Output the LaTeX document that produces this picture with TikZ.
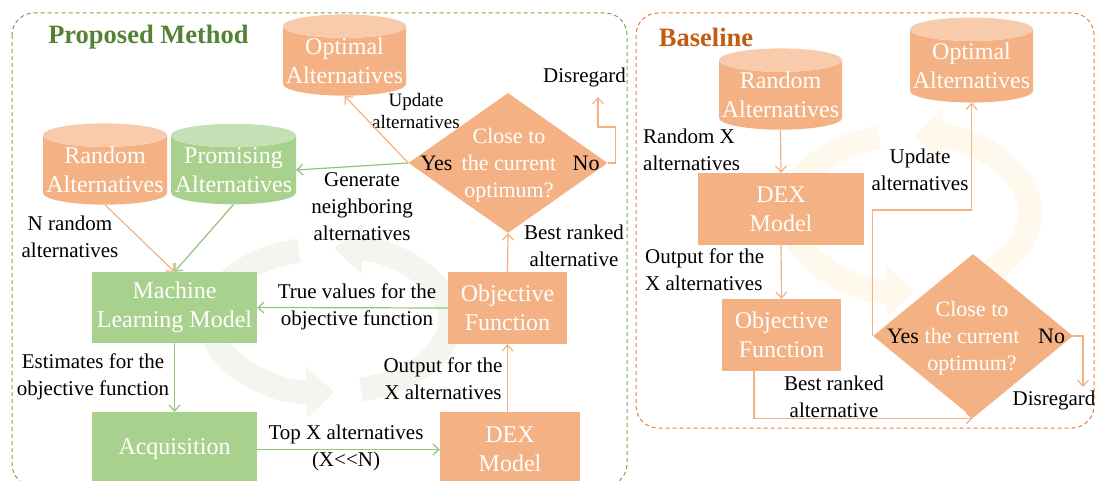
\documentclass[tikz,border=0pt]{standalone}
\usepackage{fontspec}
\setmainfont{Liberation Serif}
\usetikzlibrary{arrows.meta, positioning, shapes.geometric, calc}
\definecolor{orangefill}{HTML}{F4B183}
\definecolor{orangetop}{HTML}{F8CBAD}
\definecolor{greenfill}{HTML}{A9D18E}
\definecolor{greentop}{HTML}{C5E0B4}
\definecolor{greenline}{HTML}{93C47D}
\definecolor{orangeline}{HTML}{F4B183}
\definecolor{titlegreen}{HTML}{548235}
\definecolor{titleorange}{HTML}{C55A11}
\definecolor{framegreen}{HTML}{70AD47}
\definecolor{frameorange}{HTML}{ED7D31}
\definecolor{cyclegreen}{HTML}{F2F6EF}
\definecolor{cycleyellow}{HTML}{FEF9EC}
\newcommand{\boxfnt}{\fontsize{24}{29}\selectfont}
\newcommand{\lblfnt}{\fontsize{21}{27}\selectfont}
\newcommand{\decfnt}{\fontsize{22}{27}\selectfont}
\newcommand{\ttlfnt}{\fontsize{26.5}{30}\selectfont\bfseries}

\begin{document}
\begin{tikzpicture}[x=1pt, y=-1pt,
    box/.style={rectangle, fill=#1, text=white, inner sep=0pt, align=center, font=\boxfnt},
    db/.style 2 args={cylinder, shape border rotate=90, aspect=0.2, cylinder uses custom fill,
                      cylinder body fill=#1, cylinder end fill=#2, text=white, inner sep=0pt,
                      align=center, font=\boxfnt},
    decision/.style={diamond, fill=orangefill, inner sep=0pt},
    dtext/.style={text=white, align=center, font=\decfnt, inner sep=0pt},
    yn/.style={text=black, font=\decfnt, inner sep=0pt},
    lbl/.style={align=center, font=\lblfnt, inner sep=0pt},
    ttl/.style={font=\ttlfnt, inner sep=0pt},
    garrow/.style={draw=greenline, line width=1.2pt, -{Straight Barb[length=6pt, width=11pt]}},
    oarrow/.style={draw=orangeline, line width=1.2pt, -{Straight Barb[length=6pt, width=11pt]}},
    cyc/.style={line width=24pt, draw=#1, -{Triangle[length=28pt, width=50pt]}},
    frame/.style={draw=#1, line width=1pt, dash pattern=on 4pt off 3pt, rounded corners=22pt}
  ]
    \useasboundingbox (0,0) rectangle (1097,481);
    \clip (0,0) rectangle (1097,481);

    % faint cycle marks behind both loops
    \draw[cyc=cyclegreen] ([shift={(75:120 and 72)}]330,320) arc[start angle=75, end angle=-88, x radius=120, y radius=72];
    \draw[cyc=cyclegreen] ([shift={(-105:120 and 72)}]330,320) arc[start angle=-105, end angle=-272, x radius=120, y radius=72];
    \draw[cyc=cycleyellow] ([shift={(75:120 and 78)}]910,213) arc[start angle=75, end angle=-88, x radius=120, y radius=78];
    \draw[cyc=cycleyellow] ([shift={(-105:120 and 78)}]910,213) arc[start angle=-105, end angle=-272, x radius=120, y radius=78];

    % frames
    \draw[frame=framegreen] (12,13) rectangle (627,486);
    \draw[frame=frameorange] (636,13) rectangle (1094,428);
    \node[ttl, text=titlegreen] (ttlL) at (148.5,37) {Proposed Method};
    \node[ttl, text=titleorange] (ttlR) at (706,37) {Baseline};

    % proposed method
    \node[db={orangefill}{orangetop}, minimum width=123, minimum height=78] (optL) at (344.5,61) {Optimal\\Alternatives};
    \node[db={orangefill}{orangetop}, minimum width=124, minimum height=77] (randL) at (105,170) {Random\\Alternatives};
    \node[db={greenfill}{greentop}, minimum width=125, minimum height=77] (promL) at (233.5,170) {Promising\\Alternatives};
    \node[decision, minimum width=199, minimum height=140] (decL) at (508,163) {};
    \node[dtext] (decLtxt) at (509,165) {Close to\\the current\\optimum?};
    \node[yn, anchor=west] (yesL) at ([xshift=12pt]decL.west) {Yes};
    \node[yn, anchor=east] (noL) at ([xshift=-8pt]decL.east) {No};
    \node[box=greenfill, minimum width=165, minimum height=71] (mlL) at (174.5,307.5) {Machine\\Learning Model};
    \node[box=greenfill, minimum width=165, minimum height=75] (acqL) at (174.5,449.5) {Acquisition};
    \node[box=orangefill, minimum width=140, minimum height=75] (dexL) at (510,449.5) {DEX\\Model};
    \node[box=orangefill, minimum width=119, minimum height=72] (objL) at (507.5,308) {Objective\\Function};

    \node[lbl, font=\fontsize{19}{22}\selectfont] (updL) at (416,111) {Update\\alternatives};
    \node[lbl] (genL) at (362,207) {Generate\\neighboring\\alternatives};
    \node[lbl] (nrandL) at (70,237) {N random\\alternatives};
    \node[lbl] (trueL) at (357,307) {True values for the\\objective function};
    \node[lbl] (estL) at (93,377) {Estimates for the\\objective function};
    \node[lbl] (topL) at (346,448) {Top X alternatives\\(X\mbox{<}\mbox{<}N)};
    \node[lbl] (outL) at (443,379) {Output for the\\X alternatives};
    \node[lbl] (bestL) at (574,246) {Best ranked\\alternative};
    \node[lbl] (disL) at (584.5,77) {Disregard};
    \coordinate (disLpt) at (598,97);

    \draw[oarrow] (randL.south) -- (mlL.north);
    \draw[garrow] (promL.south) -- (mlL.north);
    \draw[garrow] (decL.west) -- (promL.east);
    \draw[oarrow] (decL.west) -- (optL.south);
    \draw[oarrow] (decL.east) -- ++(8,0) -- ++(0,-36) -| (disLpt);
    \draw[oarrow] (objL.north) -- (decL.south);
    \draw[garrow] (objL.west) -- (mlL.east);
    \draw[oarrow] (dexL.north -| objL.south) -- (objL.south);
    \draw[garrow] (mlL.south) -- (acqL.north);
    \draw[garrow] (acqL.east) -- (dexL.west);

    % baseline
    \node[db={orangefill}{orangetop}, minimum width=123, minimum height=78] (randR) at (780.5,95) {Random\\Alternatives};
    \node[db={orangefill}{orangetop}, minimum width=123, minimum height=85] (optR) at (971.5,66) {Optimal\\Alternatives};
    \node[box=orangefill, minimum width=166, minimum height=72] (dexR) at (781,209) {DEX\\Model};
    \node[box=orangefill, minimum width=119, minimum height=72] (objR) at (781.5,335) {Objective\\Function};
    \node[decision, minimum width=200, minimum height=164] (decR) at (973,336) {};
    \node[dtext] (decRtxt) at (972,338) {Close to\\the current\\optimum?};
    \node[yn, anchor=west] (yesR) at ([xshift=14pt]decR.west) {Yes};
    \node[yn, anchor=east] (noR) at ([xshift=-8pt]decR.east) {No};

    \node[lbl, align=left, anchor=west] (randXR) at (643,150) {Random X\\alternatives};
    \node[lbl] (updR) at (920,170) {Update\\alternatives};
    \node[lbl, align=left, anchor=west] (outR) at (645,270) {Output for the\\X alternatives};
    \node[lbl] (bestR) at (834,396.5) {Best ranked\\alternative};
    \node[lbl] (disR) at (1054,400) {Disregard};
    \coordinate (disRpt) at (1083,387);

    \draw[oarrow] (randR.south) -- (dexR.north);
    \draw[oarrow] (dexR.south) -- (objR.north);
    \draw[oarrow] ($(objR.south west)!0.27!(objR.south east)$) |- (decR.south);
    \draw[oarrow] (decR.west) -- ++(0,-126) -| (optR.south);
    \draw[oarrow] (decR.east) -| (disRpt);
\end{tikzpicture}
\end{document}
